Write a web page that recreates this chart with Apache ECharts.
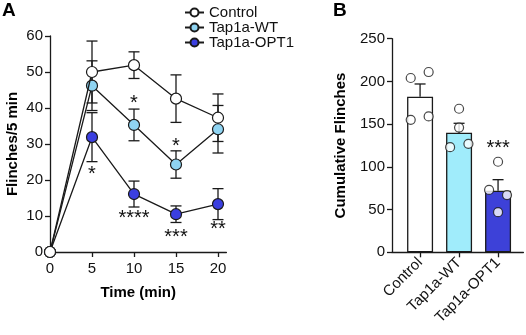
<!DOCTYPE html>
<html>
<head>
<meta charset="utf-8">
<script src="https://cdn.jsdelivr.net/npm/echarts@6/dist/echarts.min.js"></script>
<style>
html, body { margin: 0; padding: 0; background: #fff; }
#chart { width: 526px; height: 335px; }
</style>
</head>
<body>
<div id="chart"></div>
<script>
// panel A: flinches per 5 min over time
const times = [0, 5, 10, 15, 20]
const timeTicks = [0, 5, 10, 15, 20]
const controlMean = [0, 50.0, 51.9, 42.6, 37.3]
const controlSem = [0, 8.6, 3.7, 6.6, 6.6]
const wtMean = [0, 46.2, 35.3, 24.3, 34.1]
const wtSem = [0, 6.9, 4.4, 3.8, 6.6]
const optMean = [0, 31.9, 16.1, 10.5, 13.3]
const optSem = [0, 6.8, 3.6, 2.3, 4.3]
// significance marks: [time, value, text]
const stars = [
  [5, 22.8, '*'],
  [10, 42.4, '*'],
  [10, 10.6, '****'],
  [15, 30.6, '*'],
  [15, 5.2, '***'],
  [20, 7.5, '**']
]

// panel B: cumulative flinches
const groups = ['Control', 'Tap1a-WT', 'Tap1a-OPT1']
const cumMean = [182, 140, 72]
const cumSem = [15, 11, 13]
const cumDots = [
  [204, 211, 155, 159],
  [168, 146, 123, 127],
  [106, 73, 67, 47]
]
const dotJitter = [
  [-0.24, 0.22, -0.24, 0.22],
  [0, 0, -0.23, 0.24],
  [0, -0.23, 0.23, 0]
]
const cumStars = [[3, 127, '***']]

const ink = '#1a1a1a'
const font = 'Liberation Sans, Arial, sans-serif'
const colWT = '#8fd4f2'
const colOPT = '#3b3fe0'
const barWT = '#a0ecfb'
const barOPT = '#3d41d8'

const chart = echarts.init(document.getElementById('chart'))

function errA(means, sems, z) {
  return {
    type: 'custom',
    xAxisIndex: 0,
    yAxisIndex: 0,
    z: z,
    silent: true,
    encode: { x: 0, y: [1, 2] },
    data: times.map((t, i) => [t, means[i] - sems[i], means[i] + sems[i]]).filter((d, i) => sems[i] > 0),
    renderItem(params, api) {
      const x = api.value(0)
      const lo = api.coord([x, api.value(1)])
      const hi = api.coord([x, api.value(2)])
      const w = 5.5
      const style = { stroke: ink, lineWidth: 1.3 }
      return {
        type: 'group',
        children: [
          { type: 'line', shape: { x1: lo[0], y1: lo[1], x2: hi[0], y2: hi[1] }, style },
          { type: 'line', shape: { x1: lo[0] - w, y1: lo[1], x2: lo[0] + w, y2: lo[1] }, style },
          { type: 'line', shape: { x1: hi[0] - w, y1: hi[1], x2: hi[0] + w, y2: hi[1] }, style }
        ]
      }
    }
  }
}

function lineA(name, means, fill, z) {
  return {
    name: name,
    type: 'line',
    xAxisIndex: 0,
    yAxisIndex: 0,
    z: z,
    data: times.map((t, i) => [t, means[i]]),
    symbol: 'circle',
    symbolSize: 11,
    lineStyle: { color: ink, width: 1.3 },
    itemStyle: { color: fill, borderColor: ink, borderWidth: 1.2 },
    emphasis: { disabled: true },
    animation: false
  }
}

function starText(list) {
  return function (params, api) {
    const p = api.coord([api.value(0), api.value(1)])
    return {
      type: 'text',
      x: p[0],
      y: p[1] + 4.6,
      style: {
        text: list[params.dataIndex][2],
        font: '20px ' + font,
        fill: '#111',
        align: 'center',
        verticalAlign: 'middle'
      }
    }
  }
}

const axisLineStyle = { color: ink, width: 1.3 }

const option = {
  animation: false,
  textStyle: { fontFamily: font },
  graphic: [
    { type: 'text', left: 2, top: 1, style: { text: 'A', font: 'bold 19px ' + font, fill: '#000' } },
    { type: 'text', left: 333, top: 1, style: { text: 'B', font: 'bold 19px ' + font, fill: '#000' } }
  ],
  legend: {
    data: ['Control', 'Tap1a-WT', 'Tap1a-OPT1'],
    orient: 'vertical',
    left: 184,
    top: 5,
    padding: 0,
    itemGap: 0,
    itemWidth: 19,
    itemHeight: 10,
    textStyle: { fontSize: 15, color: '#111', fontFamily: font, lineHeight: 15 },
    selectedMode: false
  },
  grid: [
    { left: 50, top: 36, width: 176.4, height: 216 },
    { left: 392, top: 38.7, width: 131.4, height: 213.6 }
  ],
  xAxis: [
    {
      gridIndex: 0,
      type: 'value',
      min: 0,
      max: 21,
      interval: 5,
      name: 'Time (min)',
      nameLocation: 'middle',
      nameGap: 33,
      nameTextStyle: { fontSize: 15, fontWeight: 'bold', color: '#000' },
      axisLine: { lineStyle: axisLineStyle },
      axisTick: { show: true, length: 5, lineStyle: axisLineStyle, customValues: timeTicks },
      axisLabel: { fontSize: 15, color: '#111', margin: 9, customValues: timeTicks },
      splitLine: { show: false }
    },
    {
      gridIndex: 1,
      type: 'value',
      min: 0.28,
      max: 3.65,
      axisLine: { lineStyle: axisLineStyle },
      axisTick: { show: true, length: 5, lineStyle: axisLineStyle, customValues: [1, 2, 3] },
      axisLabel: {
        fontSize: 15,
        color: '#111',
        rotate: 45,
        margin: 8,
        customValues: [1, 2, 3],
        formatter: v => groups[Math.round(v) - 1] || ''
      },
      splitLine: { show: false }
    }
  ],
  yAxis: [
    {
      gridIndex: 0,
      type: 'value',
      min: 0,
      max: 60,
      interval: 10,
      name: 'Flinches/5 min',
      nameLocation: 'middle',
      nameGap: 30,
      nameTextStyle: { fontSize: 15, fontWeight: 'bold', color: '#000' },
      axisLine: { show: true, lineStyle: axisLineStyle },
      axisTick: { show: true, length: 5, lineStyle: axisLineStyle },
      axisLabel: { fontSize: 15, color: '#111', margin: 7 },
      splitLine: { show: false }
    },
    {
      gridIndex: 1,
      type: 'value',
      min: 0,
      max: 250,
      interval: 50,
      name: 'Cumulative Flinches',
      nameLocation: 'middle',
      nameGap: 44,
      nameTextStyle: { fontSize: 15, fontWeight: 'bold', color: '#000' },
      axisLine: { show: true, lineStyle: axisLineStyle },
      axisTick: { show: true, length: 5, lineStyle: axisLineStyle },
      axisLabel: { fontSize: 15, color: '#111', margin: 7 },
      splitLine: { show: false }
    }
  ],
  series: [
    errA(optMean, optSem, 2),
    errA(wtMean, wtSem, 2),
    errA(controlMean, controlSem, 2),
    lineA('Tap1a-OPT1', optMean, colOPT, 4),
    lineA('Tap1a-WT', wtMean, colWT, 5),
    lineA('Control', controlMean, '#fff', 6),
    {
      type: 'custom',
      xAxisIndex: 0,
      yAxisIndex: 0,
      z: 7,
      silent: true,
      encode: { x: 0, y: 1 },
      data: stars,
      renderItem: starText(stars)
    },
    // panel B
    {
      type: 'bar',
      xAxisIndex: 1,
      yAxisIndex: 1,
      barWidth: 26,
      z: 2,
      data: groups.map((g, i) => ({
        value: [i + 1, cumMean[i]],
        itemStyle: { color: ['#fff', barWT, barOPT][i], borderColor: ink, borderWidth: 1.3 }
      })),
      emphasis: { disabled: true }
    },
    {
      type: 'custom',
      xAxisIndex: 1,
      yAxisIndex: 1,
      z: 3,
      silent: true,
      encode: { x: 0, y: [1, 2] },
      data: groups.map((g, i) => [i + 1, cumMean[i], cumMean[i] + cumSem[i]]),
      renderItem(params, api) {
        const x = api.value(0)
        const lo = api.coord([x, api.value(1)])
        const hi = api.coord([x, api.value(2)])
        const w = 5.5
        const style = { stroke: ink, lineWidth: 1.3 }
        return {
          type: 'group',
          children: [
            { type: 'line', shape: { x1: lo[0], y1: lo[1], x2: hi[0], y2: hi[1] }, style },
            { type: 'line', shape: { x1: hi[0] - w, y1: hi[1], x2: hi[0] + w, y2: hi[1] }, style }
          ]
        }
      }
    },
    {
      type: 'scatter',
      xAxisIndex: 1,
      yAxisIndex: 1,
      z: 4,
      symbol: 'circle',
      symbolSize: 9,
      itemStyle: { color: '#fff', borderColor: ink, borderWidth: 1.2 },
      data: cumDots.flatMap((vals, i) => vals.map((v, j) => [i + 1 + dotJitter[i][j], v])),
      emphasis: { disabled: true }
    },
    {
      type: 'custom',
      xAxisIndex: 1,
      yAxisIndex: 1,
      z: 5,
      silent: true,
      encode: { x: 0, y: 1 },
      data: cumStars,
      renderItem: starText(cumStars)
    }
  ]
}

chart.setOption(option)
</script>
</body>
</html>
